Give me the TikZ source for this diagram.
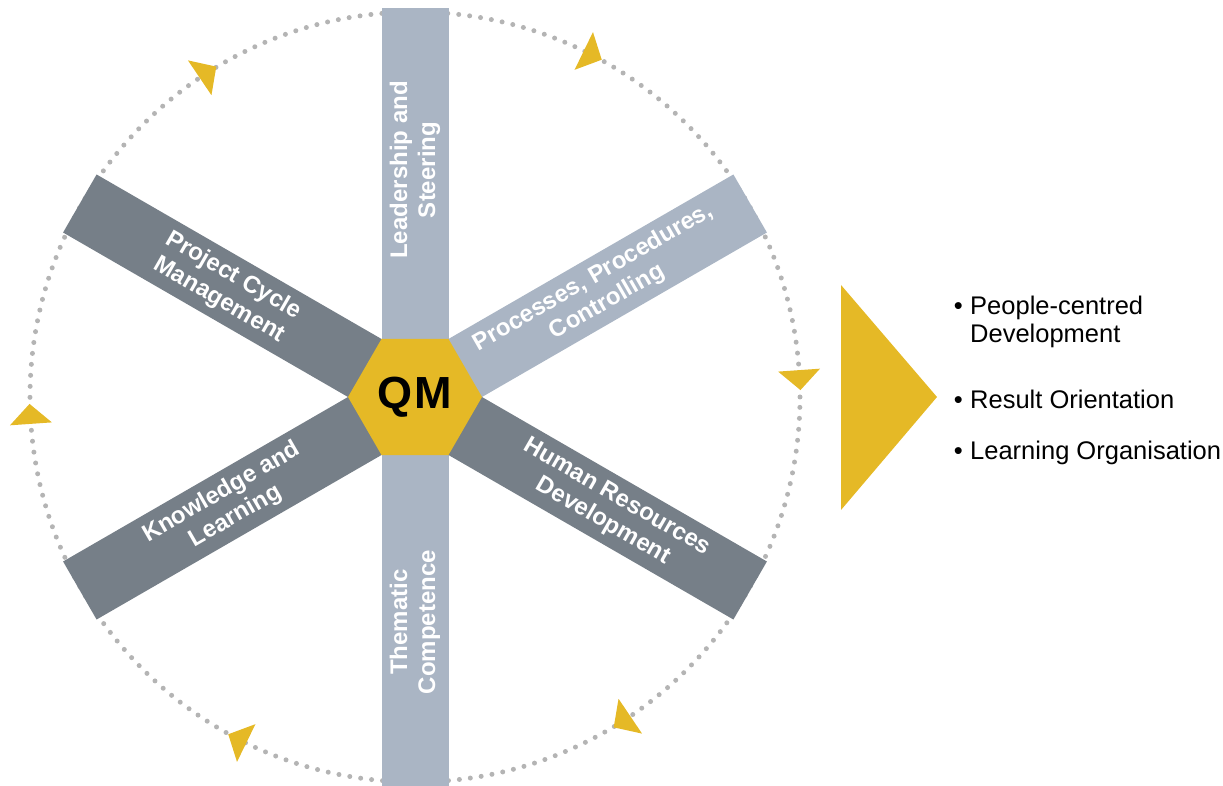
\documentclass[tikz,border=0pt]{standalone}
\usepackage{fontspec}
\setmainfont{Liberation Sans}
\usepackage{tikz}
\usetikzlibrary{shapes.geometric}
\usetikzlibrary{calc}

\definecolor{qmyellow}{RGB}{229,185,38}
\definecolor{barlight}{RGB}{170,181,196}
\definecolor{bardark}{RGB}{118,127,136}
\definecolor{dotgrey}{RGB}{180,180,180}

\begin{document}
\begin{tikzpicture}[x=1pt, y=1pt,
	bartext/.style={text=white, font=\fontsize{24}{28}\selectfont\bfseries, align=center, inner sep=0},
	listtext/.style={font=\fontsize{25.5}{30}\selectfont, anchor=base west, inner sep=0}]
	\useasboundingbox (-415, -389) rectangle (808, 397);

	\draw[dotgrey, line width=5pt, line cap=round, dash pattern=on 0pt off 11pt] (0, 0) circle (385pt);
	\foreach \a in {4, 64, ..., 304}
		\fill[qmyellow, rotate=\a] (364, 0) -- (406, 0) -- (385, -20) -- cycle;

	\fill[barlight, rotate=90] (0, -33.5) rectangle (389, 33.5);
	\fill[barlight, rotate=-90] (0, -33.5) rectangle (392, 33.5);
	\fill[barlight, rotate=30] (0, -33.5) rectangle (387, 33.5);
	\fill[bardark, rotate=150] (0, -33.5) rectangle (387, 33.5);
	\fill[bardark, rotate=210] (0, -33.5) rectangle (387, 33.5);
	\fill[bardark, rotate=-30] (0, -33.5) rectangle (387, 33.5);

	\node[regular polygon, regular polygon sides=6, minimum size=134pt, inner sep=0, fill=qmyellow,
		font=\fontsize{45}{45}\selectfont\bfseries] (qm) at (0, 0) {Q\kern2pt M};

	\node[bartext, rotate=90] (lead) at (90:227) {Leadership and\\Steering};
	\node[bartext, rotate=30] (proc) at (30:214) {Processes, Procedures,\\Controlling};
	\node[bartext, rotate=-30] (proj) at (150:218) {Project Cycle\\Management};
	\node[bartext, rotate=30] (know) at (210:215) {Knowledge and\\Learning};
	\node[bartext, rotate=-30] (human) at (-30:225) {Human Resources\\Development};
	\node[bartext, rotate=90] (them) at (-90:225) {Thematic\\Competence};

	\fill[qmyellow] (426, 112) -- (522, 0) -- (426, -113) -- cycle;

	\node[listtext] (people) at (555, 82) {People-centred};
	\node[listtext] (devel) at (555, 54) {Development};
	\node[listtext] (result) at (555, -12) {Result Orientation};
	\node[listtext] (learn) at (555, -63) {Learning Organisation};
	\foreach \n in {people, result, learn}
		\node[listtext, anchor=base east] (\n-dot) at ($(\n.base west) + (-7, 0)$) {•};
\end{tikzpicture}
\end{document}
